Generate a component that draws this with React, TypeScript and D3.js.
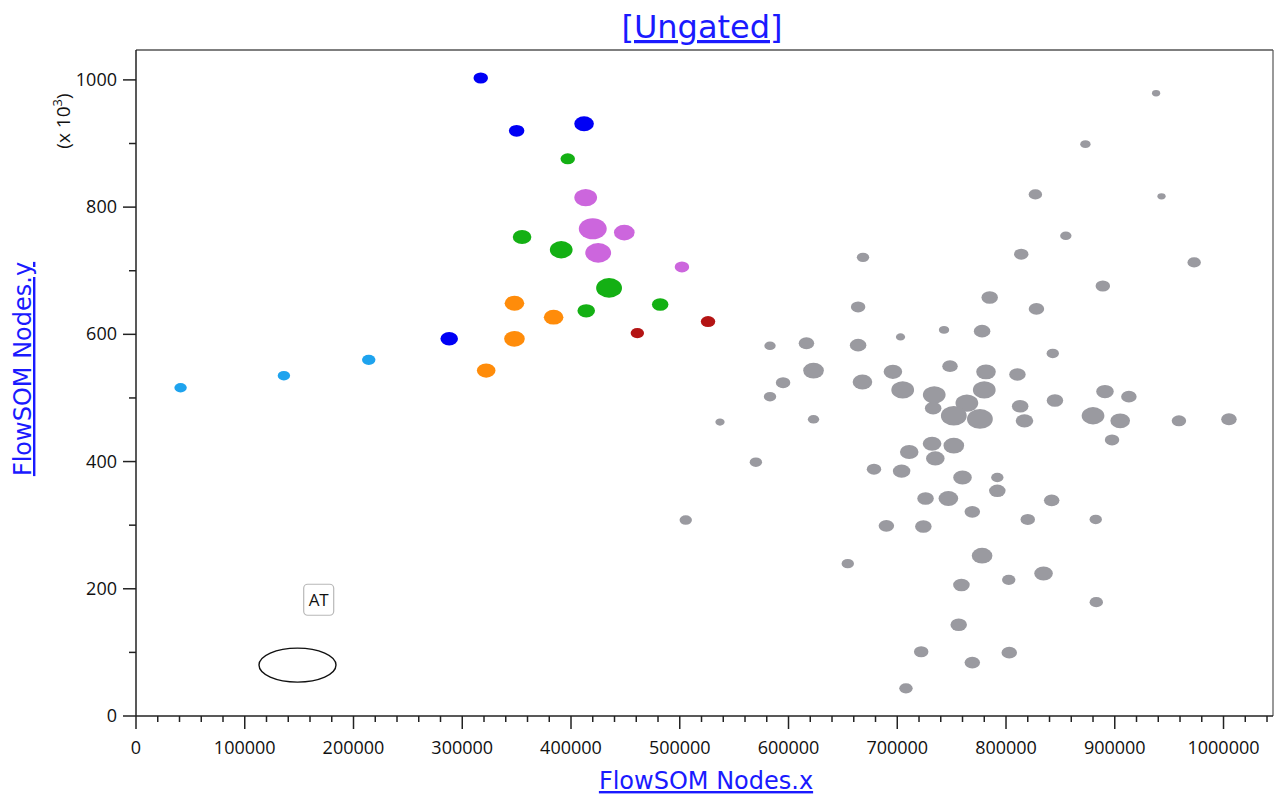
import React from "react";
import * as d3 from "d3";

// FlowSOM node populations: [x, y, nodeSize]
const lightBlueNodes: [number, number, number][] = [
  [41000, 516000, 12], [136000, 535000, 12], [214000, 560000, 13],
];
const blueNodes: [number, number, number][] = [
  [317000, 1003000, 14], [350000, 920000, 15], [412000, 931000, 19], [288000, 593000, 17],
];
const greenNodes: [number, number, number][] = [
  [397000, 876000, 14], [355000, 753000, 18], [391000, 733000, 22],
  [435000, 673000, 25], [414000, 637000, 17], [482000, 647000, 16],
];
const purpleNodes: [number, number, number][] = [
  [413500, 815000, 22], [420000, 766000, 27], [449000, 760000, 20],
  [425000, 728000, 25], [502000, 706000, 14],
];
const orangeNodes: [number, number, number][] = [
  [348000, 649000, 19], [384000, 627000, 19], [348000, 593000, 20], [322000, 543000, 18],
];
const redNodes: [number, number, number][] = [
  [461000, 602000, 13], [526000, 620000, 14],
];
const grayNodes: [number, number, number][] = [
  [938000, 979000, 8], [873000, 899000, 10], [827000, 820000, 13], [943000, 817000, 8],
  [855000, 755000, 11], [668500, 721000, 12], [814000, 726000, 14], [973000, 713000, 13],
  [889000, 676000, 14], [785000, 658000, 16], [664000, 643000, 14], [828000, 640000, 15],
  [743000, 607000, 10], [778000, 605000, 16], [703000, 596000, 9], [583000, 582000, 11],
  [616500, 586000, 15], [664000, 583000, 16], [843000, 570000, 12], [623000, 543000, 20],
  [696000, 541000, 18], [748500, 550000, 15], [781600, 541000, 19], [810500, 537000, 16],
  [595000, 524000, 14], [668000, 525000, 19], [705000, 512600, 22], [734000, 505000, 22],
  [780000, 512600, 22], [891000, 510000, 17], [913000, 502000, 15], [583000, 502000, 12],
  [813000, 487000, 16], [845000, 496000, 16], [764000, 492000, 22], [733000, 484000, 16],
  [752000, 472000, 25], [776000, 467000, 25], [880000, 472000, 22], [905000, 464000, 19],
  [817000, 464000, 17], [537000, 462000, 9], [623000, 466500, 11], [959000, 464000, 14],
  [1005000, 466500, 15], [897500, 434000, 14], [732000, 428000, 18], [752000, 425000, 20],
  [711000, 415000, 18], [735000, 405000, 18], [570000, 399000, 12], [678600, 388000, 14],
  [704000, 385000, 17], [760000, 375000, 18], [792000, 375000, 12], [792000, 354000, 16],
  [726000, 342000, 16], [747000, 342000, 19], [842000, 339000, 15], [769000, 321000, 15],
  [820000, 309000, 14], [882500, 309000, 12], [505500, 308000, 12], [690000, 299000, 15],
  [724000, 298000, 16], [778000, 252000, 20], [654500, 239500, 12], [834500, 224000, 18],
  [759000, 206000, 16], [802500, 214000, 13], [883000, 179000, 13], [756500, 143500, 16],
  [722000, 101000, 14], [803000, 99500, 15], [769000, 84000, 15], [708000, 43500, 13],
];

const populations = [
  { name: "gray", color: "#9a9aa0", nodes: grayNodes },
  { name: "lightblue", color: "#1ea3ee", nodes: lightBlueNodes },
  { name: "blue", color: "#0000f5", nodes: blueNodes },
  { name: "green", color: "#14b014", nodes: greenNodes },
  { name: "purple", color: "#cc66dd", nodes: purpleNodes },
  { name: "orange", color: "#ff8c0a", nodes: orangeNodes },
  { name: "red", color: "#b41414", nodes: redNodes },
];

const xMajorTicks = d3.range(0, 1000001, 100000);
const xMinorTicks = d3.range(0, 1040001, 20000).filter((v) => v % 100000 !== 0);
const yMajorTicks = d3.range(0, 1000001, 200000);
const yMinorTicks = d3.range(100000, 1000000, 200000);

// gate annotation (ellipse) and label
const gateEllipse = { cx: 148500, cy: 80000, rx: 35400, ry: 26700 };
const gateLabel = { x: 168000, y: 182000, text: "AT" };

const W = 1278;
const H = 795;
const left = 136, right = 1273, top = 50, bottom = 716;

export default function App() {
  const x = d3.scaleLinear().domain([0, 1045500]).range([left, right]);
  const y = d3.scaleLinear().domain([0, 1047000]).range([bottom, top]);
  const size = d3.scaleLinear().domain([0, 30]).range([0, 15.5]);
  const tickFont = "'Open Sans', 'DejaVu Sans', sans-serif";
  const titleFont = "'DejaVu Sans', Verdana, sans-serif";
  const axisColor = "#222";

  return (
    <svg width={W} height={H} style={{ position: "absolute", left: 0, top: 0, background: "#fff" }}>
      <rect x={0} y={0} width={W} height={H} fill="#fff" />
      {/* title */}
      <text x={702} y={38} textAnchor="middle" fill="#1a1aff" fontFamily={titleFont} fontSize={32} textDecoration="underline">
        [Ungated]
      </text>
      {/* frame */}
      <line x1={left} x2={right} y1={top} y2={top} stroke="#555" strokeWidth={1.5} />
      <line x1={right} x2={right} y1={top} y2={bottom} stroke="#555" strokeWidth={1.2} />
      <line x1={left} x2={left} y1={top} y2={bottom} stroke={axisColor} strokeWidth={1.5} />
      <line x1={left} x2={right} y1={bottom} y2={bottom} stroke={axisColor} strokeWidth={1.5} />
      {/* x ticks */}
      {xMajorTicks.map((v) => (
        <g key={"xM" + v}>
          <line x1={x(v)} x2={x(v)} y1={bottom} y2={bottom + 13} stroke={axisColor} strokeWidth={1.5} />
          <text x={x(v)} y={bottom + 38} textAnchor="middle" fontFamily={tickFont} fontSize={18} fill="#111">
            {v}
          </text>
        </g>
      ))}
      {xMinorTicks.map((v) => (
        <line key={"xm" + v} x1={x(v)} x2={x(v)} y1={bottom} y2={bottom + 6} stroke={axisColor} strokeWidth={1.5} />
      ))}
      {/* y ticks */}
      {yMajorTicks.map((v) => (
        <g key={"yM" + v}>
          <line x1={left - 13} x2={left} y1={y(v)} y2={y(v)} stroke={axisColor} strokeWidth={1.5} />
          <text x={left - 19} y={y(v) + 6} textAnchor="end" fontFamily={tickFont} fontSize={18} fill="#111">
            {v / 1000}
          </text>
        </g>
      ))}
      {yMinorTicks.map((v) => (
        <line key={"ym" + v} x1={left - 7} x2={left} y1={y(v)} y2={y(v)} stroke={axisColor} strokeWidth={1.5} />
      ))}
      {/* exponent label */}
      <text transform={`translate(70,121) rotate(-90)`} textAnchor="middle" fontFamily={tickFont} fontSize={19} fill="#111">
        (x 10<tspan dy={-8} fontSize={13}>3</tspan><tspan dy={8}>)</tspan>
      </text>
      {/* axis titles */}
      <text x={706} y={789} textAnchor="middle" fill="#1a1aff" fontFamily={titleFont} fontSize={24} textDecoration="underline">
        FlowSOM Nodes.x
      </text>
      <text transform={`translate(31,369) rotate(-90)`} textAnchor="middle" fill="#1a1aff" fontFamily={titleFont} fontSize={24} textDecoration="underline">
        FlowSOM Nodes.y
      </text>
      {/* nodes */}
      {populations.map((p) => (
        <g key={p.name} fill={p.color}>
          {p.nodes.map((n, i) => (
            <ellipse key={i} cx={x(n[0])} cy={y(n[1])} rx={size(n[2])} ry={size(n[2]) * 0.76} />
          ))}
        </g>
      ))}
      {/* gate */}
      <ellipse
        cx={x(gateEllipse.cx)}
        cy={y(gateEllipse.cy)}
        rx={x(gateEllipse.rx) - x(0)}
        ry={y(0) - y(gateEllipse.ry)}
        fill="none"
        stroke="#111"
        strokeWidth={1.4}
      />
      <rect x={x(gateLabel.x) - 15} y={y(gateLabel.y) - 16} width={30} height={31} rx={4} fill="#fff" stroke="#b8b8b8" strokeWidth={1.2} />
      <text x={x(gateLabel.x)} y={y(gateLabel.y) + 6} textAnchor="middle" fontFamily={tickFont} fontSize={17} fill="#111">
        {gateLabel.text}
      </text>
    </svg>
  );
}
